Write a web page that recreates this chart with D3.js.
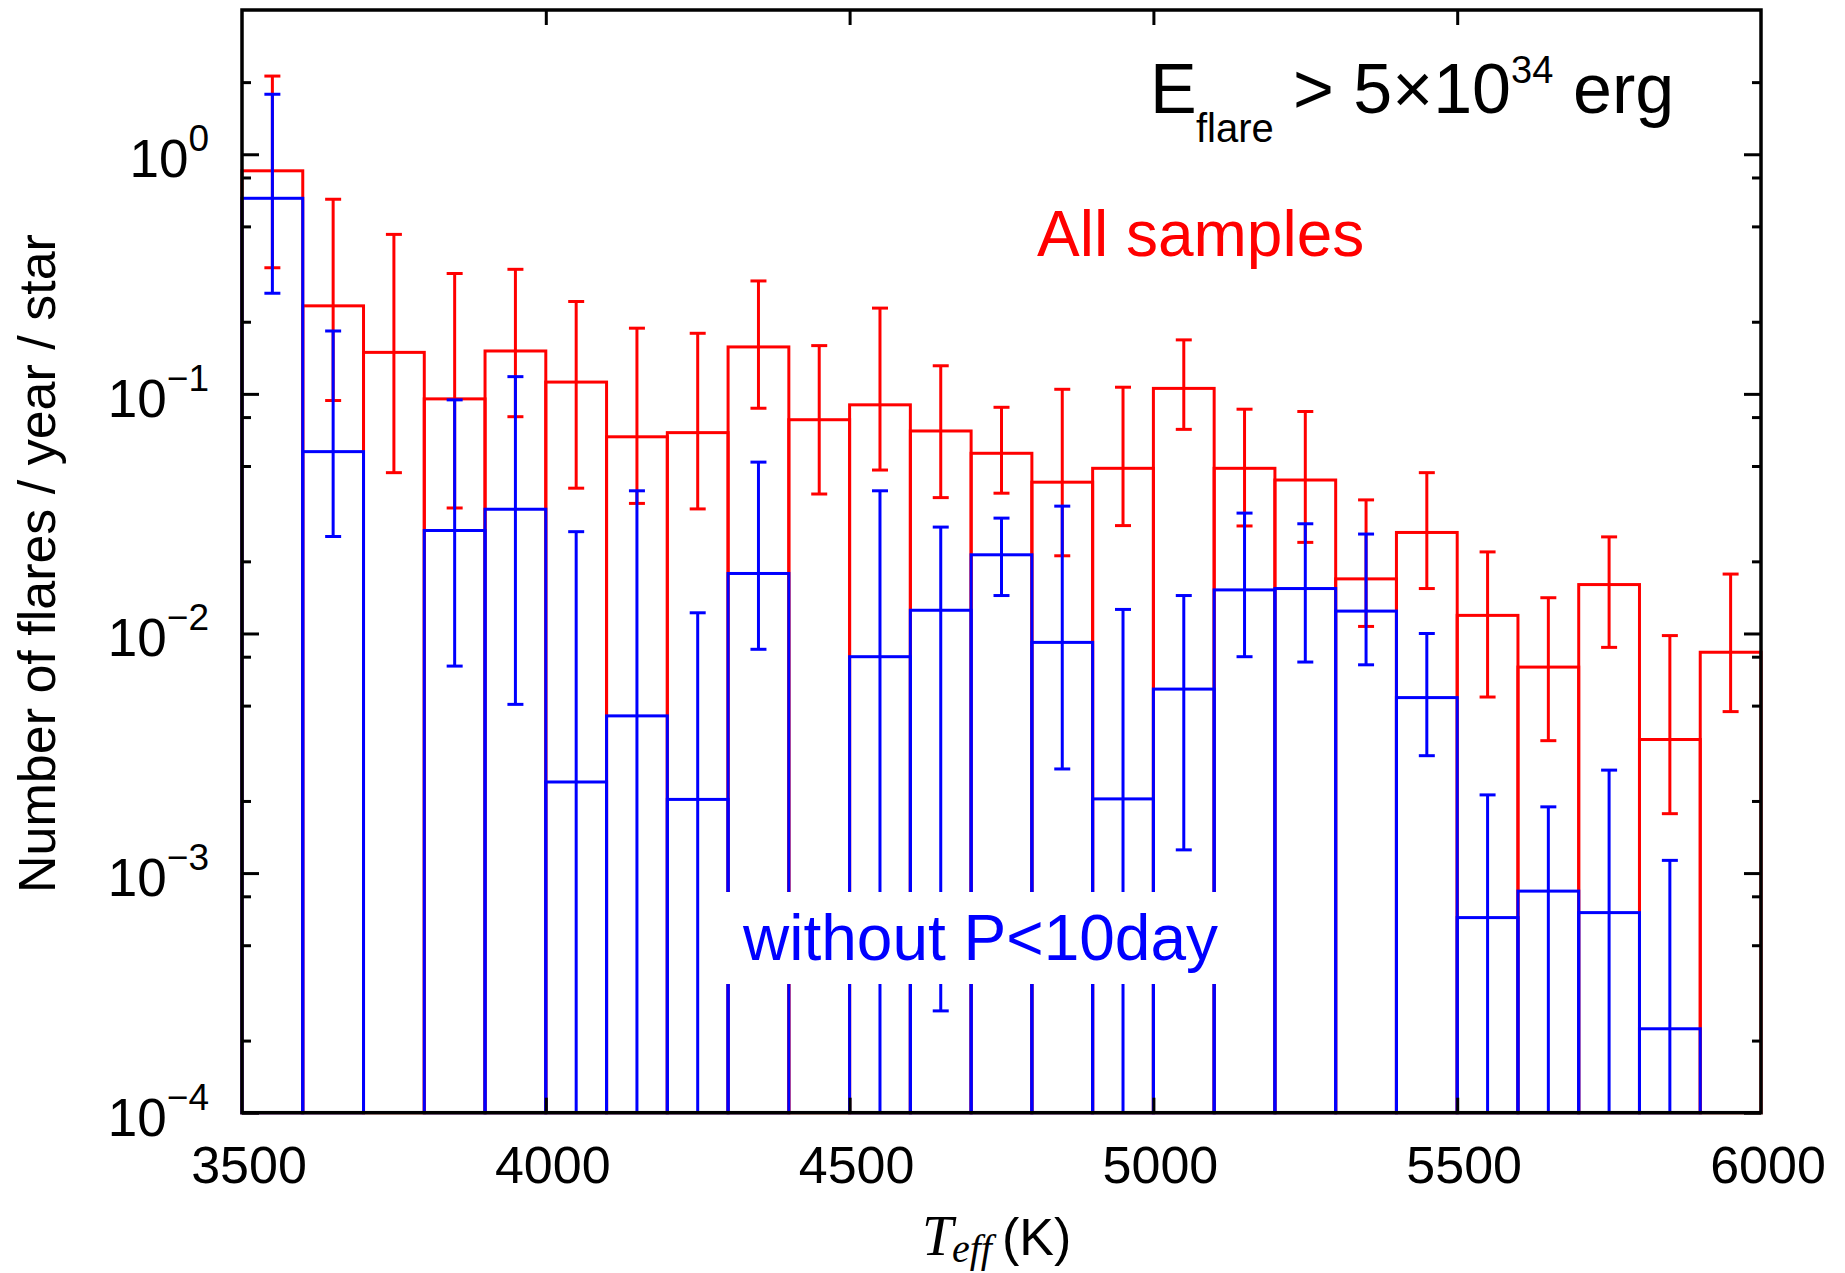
<!DOCTYPE html>
<html>
<head>
<meta charset="utf-8">
<script src="https://cdn.jsdelivr.net/npm/d3@7"></script>
<style>
  body { margin: 0; background: #fff; }
  svg text { font-family: "Liberation Sans", Arial, sans-serif; }
</style>
</head>
<body>
<svg id="chart" width="1845" height="1273"></svg>
<script>
// temperature bins (left edge, K), 100 K wide
const teffBins = [3500, 3600, 3700, 3800, 3900, 4000, 4100, 4200, 4300, 4400, 4500, 4600, 4700,
                  4800, 4900, 5000, 5100, 5200, 5300, 5400, 5500, 5600, 5700, 5800, 5900];
const binWidth = 100;

// all samples (red)
const allRate = [0.853, 0.233, 0.149, 0.0953, 0.151, 0.112, 0.0662, 0.0689, 0.157, 0.078, 0.090, 0.070, 0.0565,
                 0.0428, 0.0489, 0.1054, 0.0489, 0.0437, 0.0169, 0.0264, 0.0119, 0.00724, 0.0160, 0.00361, 0.00835];
const allHi = [2.12, 0.649, 0.463, 0.318, 0.331, 0.243, 0.188, 0.179, 0.296, 0.159, 0.228, 0.131, 0.0879,
               0.1045, 0.1066, 0.168, 0.0863, 0.0844, 0.0361, 0.0469, 0.0219, 0.0141, 0.0253, 0.0098, 0.0177];
const allLo = [0.336, 0.0938, 0.0469, 0.0334, 0.0803, 0.0404, 0.0349, 0.0331, 0.0871, 0.0382, 0.0481, 0.0369, 0.0385,
               0.0211, 0.0282, 0.0711, 0.0281, 0.0240, 0.0107, 0.0154, 0.00543, 0.00357, 0.00875, 0.00177, 0.00472];

// without P<10day (blue); 0 = empty bin / lower bound below the axis
const slowRate = [0.655, 0.0574, 0, 0.0269, 0.033, 0.0024, 0.00453, 0.00203, 0.0178, 0, 0.0080, 0.0125, 0.0213,
                  0.00918, 0.00204, 0.00586, 0.0152, 0.0154, 0.0124, 0.0054, 0.000652, 0.000841, 0.000684, 0.000224, 0];
const slowHi = [1.78, 0.183, 0, 0.0944, 0.118, 0.0266, 0.0394, 0.0122, 0.0519, 0, 0.0394, 0.0278, 0.0303,
                0.0340, 0.0126, 0.0144, 0.0318, 0.0287, 0.0260, 0.0100, 0.00212, 0.00189, 0.00269, 0.00113, 0];
const slowLo = [0.263, 0.0254, 0, 0.00731, 0.00506, 0, 0, 0, 0.00859, 0, 0, 0.000266, 0.0144,
                0.00272, 0, 0.00125, 0.0080, 0.0076, 0.0074, 0.00309, 0, 0, 0, 0, 0];

const xTicks = [3500, 4000, 4500, 5000, 5500, 6000];
const yMajor = [1, 0.1, 0.01, 0.001, 0.0001];
const yExp = ["0", "\u22121", "\u22122", "\u22123", "\u22124"];
const yMinor = [2, 0.8, 0.5, 0.2, 0.08, 0.05, 0.02, 0.008, 0.005, 0.002, 0.0008, 0.0005, 0.0002];

var svg = d3.select("#chart");
var pLeft = 242, pRight = 1761, pTop = 10, pBottom = 1112.7;

var x = d3.scaleLinear().domain([3500, 6000]).range([pLeft, pRight]);
var y = d3.scaleLog().domain([1e-4, 4]).range([pBottom, pTop]);
var yc = function (v) { return v > 1e-4 ? y(v) : pBottom; };

function drawSeries(rate, hi, lo, color) {
    var g = svg.append("g");
    var idx = d3.range(teffBins.length).filter(function (i) { return rate[i] > 0; });
    g.selectAll("rect").data(idx).enter().append("rect")
        .attr("x", function (i) { return x(teffBins[i]); })
        .attr("y", function (i) { return y(rate[i]); })
        .attr("width", x(binWidth + 3500) - x(3500))
        .attr("height", function (i) { return pBottom - y(rate[i]); })
        .attr("fill", "none").attr("stroke", color).attr("stroke-width", 3);
    var cx = function (i) { return x(teffBins[i] + binWidth / 2); };
    g.selectAll(".eb").data(idx).enter().append("line")
        .attr("x1", cx).attr("x2", cx)
        .attr("y1", function (i) { return y(hi[i]); })
        .attr("y2", function (i) { return yc(lo[i]); })
        .attr("stroke", color).attr("stroke-width", 3);
    var caps = [];
    idx.forEach(function (i) {
        caps.push([i, hi[i]]);
        if (lo[i] > 1e-4) caps.push([i, lo[i]]);
    });
    g.selectAll(".cap").data(caps).enter().append("line")
        .attr("x1", function (d) { return cx(d[0]) - 8; })
        .attr("x2", function (d) { return cx(d[0]) + 8; })
        .attr("y1", function (d) { return y(d[1]); })
        .attr("y2", function (d) { return y(d[1]); })
        .attr("stroke", color).attr("stroke-width", 3);
}

drawSeries(allRate, allHi, allLo, "#ff0000");
drawSeries(slowRate, slowHi, slowLo, "#0000ff");

// white box behind the blue label
svg.append("rect").attr("x", 712).attr("y", 892).attr("width", 516).attr("height", 92).attr("fill", "#fff");

// axes (ticks point inward)
function tickStyle(g) {
    g.select(".domain").remove();
    g.selectAll("line").attr("stroke", "#000").attr("stroke-width", 3);
}
svg.append("g").attr("transform", "translate(" + pLeft + ",0)")
    .call(d3.axisLeft(y).tickValues(yMajor).tickSize(-17).tickFormat("")).call(tickStyle);
svg.append("g").attr("transform", "translate(" + pLeft + ",0)")
    .call(d3.axisLeft(y).tickValues(yMinor).tickSize(-9).tickFormat("")).call(tickStyle);
svg.append("g").attr("transform", "translate(" + pRight + ",0)")
    .call(d3.axisRight(y).tickValues(yMajor).tickSize(-17).tickFormat("")).call(tickStyle);
svg.append("g").attr("transform", "translate(" + pRight + ",0)")
    .call(d3.axisRight(y).tickValues(yMinor).tickSize(-9).tickFormat("")).call(tickStyle);
svg.append("g").attr("transform", "translate(0," + pTop + ")")
    .call(d3.axisTop(x).tickValues(xTicks.slice(1, 5)).tickSize(-15).tickFormat("")).call(tickStyle);
svg.append("g").attr("transform", "translate(0," + pBottom + ")")
    .call(d3.axisBottom(x).tickValues(xTicks.slice(1, 5)).tickSize(-15).tickFormat("")).call(tickStyle);

svg.append("rect").attr("x", pLeft).attr("y", pTop).attr("width", pRight - pLeft).attr("height", pBottom - pTop)
    .attr("fill", "none").attr("stroke", "#000").attr("stroke-width", 3.5);

// tick labels
svg.selectAll(".xl").data(xTicks).enter().append("text")
    .attr("x", function (d) { return x(d) + 7; }).attr("y", 1183)
    .attr("text-anchor", "middle").attr("font-size", 52).text(function (d) { return d; });

var yl = svg.selectAll(".yl").data(yMajor).enter().append("text")
    .attr("x", 209).attr("y", function (d) { return y(d) + 23; })
    .attr("text-anchor", "end").attr("font-size", 53);
yl.append("tspan").text("10");
yl.append("tspan").attr("dy", -26).attr("font-size", 37).text(function (d, i) { return yExp[i]; });

// axis titles
svg.append("text").attr("transform", "translate(55,893) rotate(-90)")
    .attr("font-size", 52).text("Number of flares / year / star");

var xt = svg.append("text").attr("x", 922).attr("y", 1255).attr("font-size", 56);
xt.append("tspan").attr("font-family", "Liberation Serif, serif").attr("font-style", "italic").text("T");
xt.append("tspan").attr("x", 952).attr("font-family", "Liberation Serif, serif").attr("font-style", "italic")
    .attr("font-size", 40).attr("dy", 7).text("eff");
xt.append("tspan").attr("x", 1002).attr("dy", -7).attr("font-size", 52).text("(K)");

// annotations
var tt = svg.append("text").attr("y", 113).attr("font-size", 70);
tt.append("tspan").attr("x", 1150).text("E");
tt.append("tspan").attr("x", 1196).attr("dy", 29).attr("font-size", 40).text("flare");
tt.append("tspan").attr("x", 1293).attr("dy", -29).text("> 5\u00d710");
tt.append("tspan").attr("x", 1511).attr("dy", -30).attr("font-size", 38).text("34");
tt.append("tspan").attr("x", 1573).attr("dy", 30).text("erg");

svg.append("text").attr("x", 1037).attr("y", 256).attr("font-size", 64).attr("fill", "#ff0000").text("All samples");
svg.append("text").attr("x", 743).attr("y", 960).attr("font-size", 64).attr("fill", "#0000ff").text("without P<10day");
</script>
</body>
</html>
